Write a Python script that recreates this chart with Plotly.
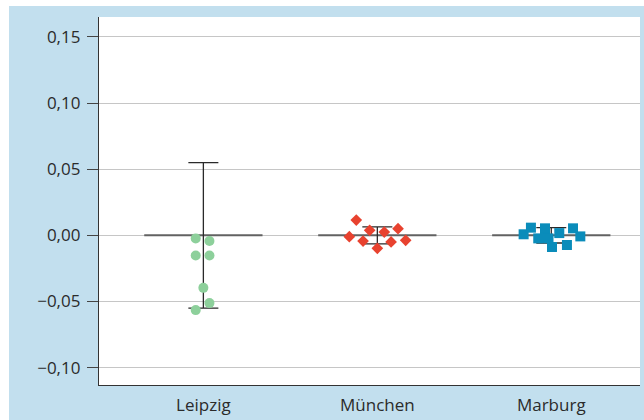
import plotly.graph_objects as go

categories = ["Leipzig", "München", "Marburg"]

leipzig_values = [-0.0023, -0.0043, -0.0153, -0.0153, -0.0397, -0.0512, -0.0565]
leipzig_jitter = [-0.044, 0.035, -0.044, 0.035, 0.0, 0.035, -0.044]

muenchen_values = [0.0115, -0.0010, 0.0038, -0.0043, -0.0098, 0.0025, -0.0050, 0.0050, -0.0038]
muenchen_jitter = [-0.121, -0.161, -0.044, -0.082, 0.0, 0.040, 0.079, 0.119, 0.163]

marburg_values = [0.0008, 0.0058, 0.0053, -0.0023, -0.0018, -0.0088, 0.0017, -0.0073, 0.0053, -0.0008, -0.0023]
marburg_jitter = [-0.159, -0.117, -0.036, -0.075, -0.036, 0.004, 0.046, 0.090, 0.125, 0.167, -0.016]

center_values = [0.0, 0.0, 0.0]
error_values = [0.055, 0.0064, 0.0058]

y_tickvals = [-0.10, -0.05, 0.00, 0.05, 0.10, 0.15]
y_ticktext = ["\u22120,10", "\u22120,05", "0,00", "0,05", "0,10", "0,15"]

BLUE_BG = "#c2dfee"
FONT = "Open Sans, sans-serif"
FSIZE = 17

fig = go.Figure()

# central horizontal lines
for i, c in enumerate(center_values):
    fig.add_trace(go.Scatter(
        x=[i - 0.34, i + 0.34], y=[c, c], mode="lines",
        line=dict(color="#626262", width=2), hoverinfo="skip", showlegend=False))

# error bars
fig.add_trace(go.Scatter(
    x=list(range(len(categories))), y=center_values, mode="markers",
    marker=dict(size=1, color="rgba(0,0,0,0)"),
    error_y=dict(type="data", array=error_values, visible=True,
                 color="#2a2a2a", thickness=1.3, width=15),
    showlegend=False, hoverinfo="skip"))

groups = [
    (leipzig_values, leipzig_jitter, "circle", 10, "#8dd09b"),
    (muenchen_values, muenchen_jitter, "diamond", 9, "#e8422f"),
    (marburg_values, marburg_jitter, "square", 10, "#0a8cba"),
]
for gi, (vals, jit, sym, size, col) in enumerate(groups):
    fig.add_trace(go.Scatter(
        x=[gi + j for j in jit], y=vals, mode="markers",
        marker=dict(symbol=sym, size=size, color=col, line=dict(width=0)),
        name=categories[gi], showlegend=False))

L, R, T, B = 99, 4, 17, 33
W, H = 644, 420
pw, ph = W - L - R, H - T - B

fig.update_layout(
    width=W, height=H,
    margin=dict(l=L, r=R, t=T, b=B, pad=0),
    paper_bgcolor=BLUE_BG, plot_bgcolor="white",
    font=dict(family=FONT, size=FSIZE, color="#2b2b2b"),
    xaxis=dict(
        range=[-0.6, 2.51], tickvals=[0, 1, 2], ticktext=categories,
        showgrid=False, zeroline=False, ticks="", showline=True,
        linecolor="#333333", linewidth=1.3, mirror=False,
        tickfont=dict(family=FONT, size=FSIZE, color="#2b2b2b"),
        ticklabelstandoff=4,
    ),
    yaxis=dict(
        range=[-0.1131, 0.165], tickvals=y_tickvals, ticktext=y_ticktext,
        showgrid=True, gridcolor="#c6c6c6", gridwidth=1, zeroline=False,
        ticks="outside", ticklen=11, tickcolor="#444444", tickwidth=1,
        showline=True, linecolor="#333333", linewidth=1.3,
        tickfont=dict(family=FONT, size=FSIZE, color="#2b2b2b"),
        ticklabelstandoff=3,
    ),
    shapes=[
        dict(type="rect", xref="paper", yref="paper", layer="above",
             x0=-L / pw - 0.01, x1=(9 - L) / pw, y0=-B / ph - 0.01, y1=(ph + T) / ph + 0.01,
             fillcolor="white", line=dict(width=0)),
        dict(type="rect", xref="paper", yref="paper", layer="above",
             x0=-L / pw - 0.01, x1=(W - L) / pw + 0.01, y0=(ph + T - 6) / ph, y1=(ph + T) / ph + 0.01,
             fillcolor="white", line=dict(width=0)),
    ],
)

fig.write_html(
    "out.html",
    config={"displayModeBar": False},
    post_script="document.body.style.margin='0';document.body.style.overflow='hidden';",
)
